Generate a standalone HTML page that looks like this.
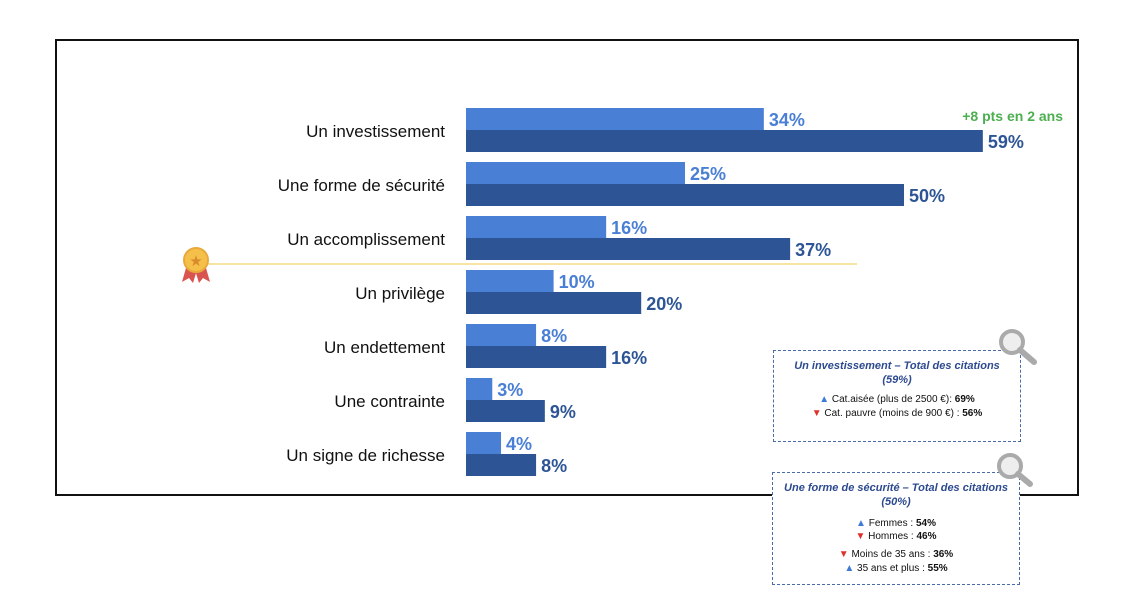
<!DOCTYPE html>
<html><head><meta charset="utf-8"><style>
body{margin:0;width:1126px;height:608px;background:#fff;font-family:"Liberation Sans",sans-serif;position:relative;overflow:hidden}
.frame{position:absolute;left:55px;top:39px;width:1020px;height:453px;border:2px solid #111}
.box{position:absolute;border:1.5px dashed #4a6aa8;background:#fff;text-align:center;font-size:10px;color:#111}
.box .t{color:#2d4a8f;font-weight:bold;font-style:italic;font-size:11px;line-height:14px;margin-top:8px}
.up{color:#3f7ad6}.dn{color:#e0302a}
</style></head><body>
<div class="frame"></div>
<svg id="chart" width="1126" height="608" style="position:absolute;left:0;top:0"></svg>
<div class="box" style="left:773px;top:350px;width:246px;height:90px">
<div class="t">Un investissement – Total des citations<br>(59%)</div>
<div style="margin-top:6px;line-height:14px"><span class="up">▲</span> Cat.aisée (plus de 2500 €): <b>69%</b><br><span class="dn">▼</span> Cat. pauvre (moins de 900 €) : <b>56%</b></div>
</div>
<div class="box" style="left:772px;top:472px;width:246px;height:111px">
<div class="t">Une forme de sécurité – Total des citations<br>(50%)</div>
<div style="margin-top:8px;line-height:13px"><span class="up">▲</span> Femmes : <b>54%</b><br><span class="dn">▼</span> Hommes : <b>46%</b></div>
<div style="margin-top:5px;line-height:14px"><span class="dn">▼</span> Moins de 35 ans : <b>36%</b><br><span class="up">▲</span> 35 ans et plus : <b>55%</b></div>
</div>
<svg width="60" height="60" style="position:absolute;left:994px;top:326px"><circle cx="18" cy="16" r="11" fill="#eee" stroke="#aaa" stroke-width="4"/><line x1="26" y1="24" x2="40" y2="36" stroke="#aaa" stroke-width="6" stroke-linecap="round"/></svg>
<svg width="60" height="60" style="position:absolute;left:994px;top:450px"><circle cx="16" cy="16" r="11" fill="#eee" stroke="#aaa" stroke-width="4"/><line x1="24" y1="24" x2="36" y2="34" stroke="#aaa" stroke-width="6" stroke-linecap="round"/></svg>
<script>
const categories=["Un investissement","Une forme de sécurité","Un accomplissement","Un privilège","Un endettement","Une contrainte","Un signe de richesse"];
const values2yAgo=[34,25,16,10,8,3,4];
const valuesNow=[59,50,37,20,16,9,8];
const svg=document.getElementById('chart');
const NS='http://www.w3.org/2000/svg';
const x0=466,k=8.76,top0=108,step=54,bh=22;
const xs=v=>v*k;
function mk(t,a,txt){const e=document.createElementNS(NS,t);for(const n in a)e.setAttribute(n,a[n]);if(txt!=null)e.textContent=txt;svg.appendChild(e);return e;}
let gl=mk('line',{x1:205,y1:264,x2:857,y2:264,stroke:'#f3d36a','stroke-width':1.3});


mk('polygon',{points:'186,268 182,282 189,278 193,283 197,270',fill:'#d9534f'});
mk('polygon',{points:'206,268 210,282 203,278 199,283 195,270',fill:'#d9534f'});
let md=mk('circle',{cx:196,cy:260,r:12,fill:'#f5c04a',stroke:'#e8a93a','stroke-width':2});


mk('text',{x:196,y:266,'text-anchor':'middle','font-size':15,fill:'#d98a2b'},'★');
categories.forEach((c,i)=>{
 const y=top0+i*step;
 const lb=mk('text',{x:445,y:y+bh+7,'text-anchor':'end','font-size':17,fill:'#111'},c);
 
 
 const b1=mk('rect',{x:x0,y:y,width:xs(values2yAgo[i]),height:bh,fill:'#4a7fd6'});
 
 
 const b2=mk('rect',{x:x0,y:y+bh,width:xs(valuesNow[i]),height:bh,fill:'#2d5596'});
 
 
 const t1=mk('text',{x:x0+xs(values2yAgo[i])+5,y:y+18,'font-size':18,'font-weight':'bold',fill:'#4a7fd6'},values2yAgo[i]+'%');
 
 
 const t2=mk('text',{x:x0+xs(valuesNow[i])+5,y:y+bh+18,'font-size':18,'font-weight':'bold',fill:'#2d5596'},valuesNow[i]+'%');
 
 
});
const g=mk('text',{x:1063,y:121,'text-anchor':'end','font-size':14,'font-weight':'bold',fill:'#4caf50'},'+8 pts en 2 ans');


</script>
</body></html>
